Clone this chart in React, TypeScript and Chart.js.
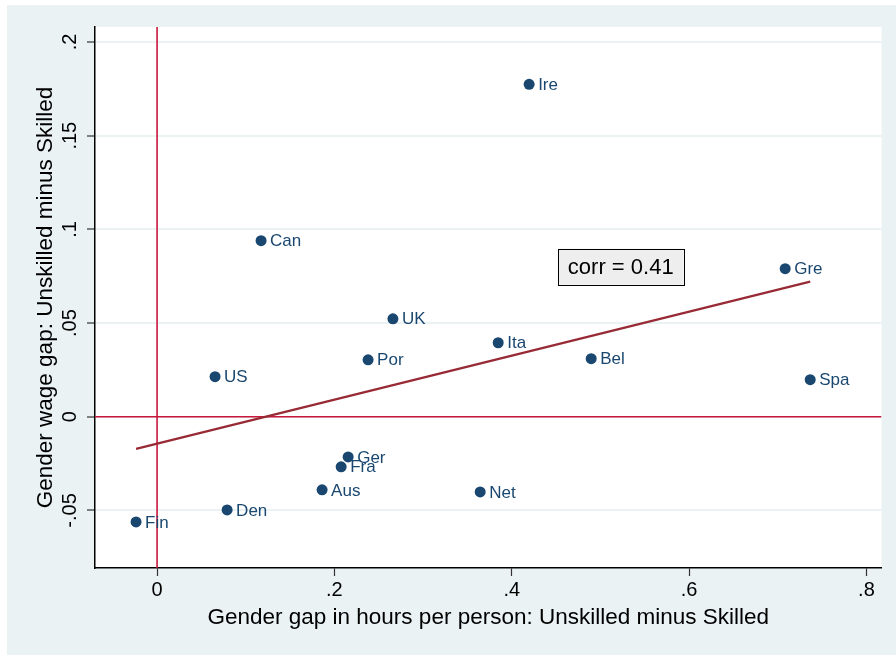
import React, { useEffect, useRef } from "react";
import { Chart, registerables } from "chart.js";

Chart.register(...registerables);

const countries = ["Ire", "Can", "Gre", "UK", "Ita", "Por", "Bel", "US", "Spa", "Ger", "Fra", "Aus", "Net", "Den", "Fin"];
const hoursGap = [0.4196, 0.1173, 0.7084, 0.266, 0.3847, 0.238, 0.4896, 0.0654, 0.7366, 0.2155, 0.2076, 0.1861, 0.3644, 0.079, -0.0237];
const wageGap = [0.1774, 0.094, 0.079, 0.0523, 0.0395, 0.0304, 0.031, 0.0214, 0.0198, -0.0214, -0.0267, -0.039, -0.0401, -0.0497, -0.0561];

const fitX = [-0.0237, 0.7366];
const fitY = [-0.0171, 0.0721];

const xTickValues = [0, 0.2, 0.4, 0.6, 0.8];
const xTickLabels = ["0", ".2", ".4", ".6", ".8"];
const yTickValues = [-0.05, 0, 0.05, 0.1, 0.15, 0.2];
const yTickLabels = ["-.05", "0", ".05", ".1", ".15", ".2"];

const xRange = [-0.07, 0.817];
const yRange = [-0.0807, 0.208];

const corrText = "corr = 0.41";
const corrPos = { x: 0.5229, y: 0.0801 };

const xTitle = "Gender gap in hours per person: Unskilled minus Skilled";
const yTitle = "Gender wage gap: Unskilled minus Skilled";

const FONT = '"Liberation Sans", Arial, Helvetica, sans-serif';
const NAVY = "#1a476f";
const BG = "#eaf2f3";

export default function App() {
  const ref = useRef<HTMLCanvasElement | null>(null);

  useEffect(() => {
    const canvas = ref.current;
    if (!canvas) return;

    const bgPlugin = {
      id: "bgPlugin",
      beforeDraw(chart: any) {
        const { ctx, chartArea } = chart;
        ctx.save();
        ctx.fillStyle = BG;
        ctx.fillRect(0, 0, chart.width, chart.height);
        ctx.fillStyle = "#ffffff";
        ctx.fillRect(chartArea.left, chartArea.top, chartArea.right - chartArea.left, chartArea.bottom - chartArea.top);
        ctx.restore();
      },
    };

    const annoPlugin = {
      id: "annoPlugin",
      afterDatasetsDraw(chart: any) {
        const { ctx } = chart;
        const xs = chart.scales.x;
        const ys = chart.scales.y;
        ctx.save();
        ctx.font = `17px ${FONT}`;
        ctx.fillStyle = NAVY;
        ctx.textAlign = "left";
        ctx.textBaseline = "middle";
        countries.forEach((c, i) => {
          const px = xs.getPixelForValue(hoursGap[i]);
          const py = ys.getPixelForValue(wageGap[i]);
          ctx.fillText(c, px + 9, py + 1);
        });
        ctx.font = `22px ${FONT}`;
        const tw = ctx.measureText(corrText).width;
        const bw = tw + 20;
        const bh = 36;
        const cx = xs.getPixelForValue(corrPos.x);
        const cy = ys.getPixelForValue(corrPos.y);
        ctx.fillStyle = "#eeeeee";
        ctx.fillRect(cx - bw / 2, cy - bh / 2, bw, bh);
        ctx.strokeStyle = "#000";
        ctx.lineWidth = 1;
        ctx.strokeRect(Math.round(cx - bw / 2) + 0.5, Math.round(cy - bh / 2) + 0.5, Math.round(bw), bh);
        ctx.fillStyle = "#000";
        ctx.textAlign = "center";
        ctx.fillText(corrText, cx, cy + 1);
        ctx.restore();
      },
      afterDraw(chart: any) {
        const { ctx, chartArea } = chart;
        const ys = chart.scales.y;
        ctx.save();
        ctx.fillStyle = "#000";
        ctx.font = `20px ${FONT}`;
        ctx.textAlign = "center";
        ctx.textBaseline = "middle";
        yTickValues.forEach((v, i) => {
          const py = ys.getPixelForValue(v);
          ctx.save();
          ctx.translate(63, py);
          ctx.rotate(-Math.PI / 2);
          ctx.fillText(yTickLabels[i], 0, 0);
          ctx.restore();
        });
        ctx.font = `22.5px ${FONT}`;
        ctx.save();
        ctx.translate(39, (chartArea.top + chartArea.bottom) / 2);
        ctx.rotate(-Math.PI / 2);
        ctx.fillText(yTitle, 0, 0);
        ctx.restore();
        ctx.restore();
      },
    };

    const chart = new Chart(canvas, {
      type: "scatter",
      data: {
        datasets: [
          {
            type: "scatter",
            data: hoursGap.map((x, i) => ({ x, y: wageGap[i] })),
            backgroundColor: NAVY,
            borderWidth: 0,
            pointRadius: 5.5,
          } as any,
          {
            type: "line",
            data: fitX.map((x, i) => ({ x, y: fitY[i] })),
            borderColor: "#982a35",
            borderWidth: 2.2,
            pointRadius: 0,
            fill: false,
          },
          {
            type: "line",
            data: [
              { x: xRange[0], y: 0 },
              { x: xRange[1], y: 0 },
            ],
            borderColor: "#c8163c",
            borderWidth: 1.6,
            pointRadius: 0,
            fill: false,
          },
          {
            type: "line",
            data: [
              { x: 0, y: yRange[0] },
              { x: 0, y: yRange[1] },
            ],
            borderColor: "#c8163c",
            borderWidth: 1.6,
            pointRadius: 0,
            fill: false,
          },
        ],
      },
      options: {
        animation: false,
        responsive: false,
        devicePixelRatio: 1,
        layout: { padding: { top: 22, right: 14.5, left: 0, bottom: 0 } },
        plugins: {
          legend: { display: false },
          tooltip: { enabled: false },
        },
        scales: {
          x: {
            type: "linear",
            min: xRange[0],
            max: xRange[1],
            afterBuildTicks(scale: any) {
              scale.ticks = xTickValues.map((v) => ({ value: v }));
            },
            afterFit(scale: any) {
              scale.height = 87;
            },
            ticks: {
              callback: (v: any) => {
                const i = xTickValues.findIndex((t) => Math.abs(t - Number(v)) < 1e-9);
                return i >= 0 ? xTickLabels[i] : "";
              },
              font: { size: 20, family: FONT },
              color: "#000",
              padding: 2,
              maxRotation: 0,
              autoSkip: false,
            },
            grid: {
              drawOnChartArea: false,
              drawTicks: true,
              tickLength: 8,
              tickColor: "#333",
              tickWidth: 1.2,
            },
            border: { color: "#000", width: 1.5 },
            title: {
              display: true,
              text: xTitle,
              font: { size: 22.5, family: FONT },
              color: "#000",
              padding: { top: 0, bottom: 24 },
            },
          },
          y: {
            type: "linear",
            min: yRange[0],
            max: yRange[1],
            afterBuildTicks(scale: any) {
              scale.ticks = yTickValues.map((v) => ({ value: v }));
            },
            afterFit(scale: any) {
              scale.width = 88;
            },
            ticks: { display: false },
            grid: {
              color: BG,
              lineWidth: 2,
              drawTicks: true,
              tickLength: 8,
              tickColor: "#333",
              tickWidth: 1.2,
            },
            border: { color: "#000", width: 1.5 },
          },
        },
      },
      plugins: [bgPlugin, annoPlugin],
    } as any);

    return () => chart.destroy();
  }, []);

  return (
    <div style={{ position: "absolute", left: 7, top: 5, width: 889, height: 650 }}>
      <canvas ref={ref} width={889} height={650} style={{ display: "block" }} />
    </div>
  );
}
